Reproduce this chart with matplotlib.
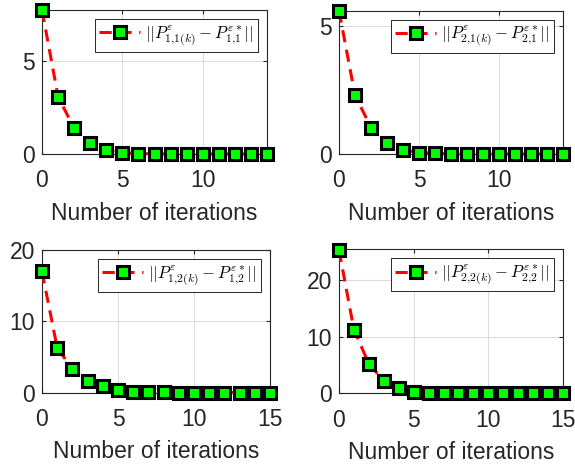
import matplotlib
matplotlib.use("Agg")
import matplotlib.pyplot as plt

# values, one list per panel
iters_top = list(range(15))
iters_bottom = list(range(16))
err_11 = [7.74, 3.08, 1.38, 0.61, 0.21, 0.07, 0.02, 0.01, 0, 0, 0, 0, 0, 0, 0]
err_21 = [5.58, 2.29, 1.03, 0.44, 0.16, 0.05, 0.02, 0.01, 0, 0, 0, 0, 0, 0, 0]
err_12 = [17.0, 6.25, 3.3, 1.65, 0.85, 0.3, 0.08, 0.03, 0.01, 0, 0, 0, 0, 0, 0, 0]
err_22 = [25.3, 11.2, 5.2, 2.2, 0.93, 0.3, 0.08, 0.03, 0.01, 0, 0, 0, 0, 0, 0, 0]

labels = [
    r"$||P^{\varepsilon}_{1{,}1(k)}-P^{\varepsilon *}_{1{,}1}||$",
    r"$||P^{\varepsilon}_{2{,}1(k)}-P^{\varepsilon *}_{2{,}1}||$",
    r"$||P^{\varepsilon}_{1{,}2(k)}-P^{\varepsilon *}_{1{,}2}||$",
    r"$||P^{\varepsilon}_{2{,}2(k)}-P^{\varepsilon *}_{2{,}2}||$",
]

plt.rcParams["font.family"] = ["Liberation Sans", "DejaVu Sans"]
plt.rcParams["mathtext.fontset"] = "cm"

AX_COL = "#262626"
W, H = 575, 468

panels = [
    # (left, top, right, bottom) in pixels, x, y, xlim, yticks, ylim, xticks
    ((42, 10, 267, 154), iters_top, err_11, (0, 14), [0, 5], (0, 7.74), [0, 5, 10]),
    ((339, 10.7, 563, 154), iters_top, err_21, (0, 14), [0, 5], (0, 5.58), [0, 5, 10]),
    ((42, 250, 270, 392.5), iters_bottom, err_12, (0, 15), [0, 10, 20], (0, 20), [0, 5, 10, 15]),
    ((339, 249.3, 563, 393.3), iters_bottom, err_22, (0, 15), [0, 10, 20], (0, 25.4), [0, 5, 10, 15]),
]

fig = plt.figure(figsize=(W / 100, H / 100), dpi=100)

for (box, x, y, xlim, yticks, ylim, xticks), lab in zip(panels, labels):
    l, t, r, b = box
    ax = fig.add_axes([l / W, (H - b) / H, (r - l) / W, (b - t) / H])
    ax.plot(x, y, color="red", linestyle=(0, (4, 2.5)), linewidth=2.2,
            marker="s", markersize=8.5, markerfacecolor="#00ff00",
            markeredgecolor="black", markeredgewidth=2.2, label=lab,
            clip_on=False, zorder=3)
    ax.set_xlim(*xlim)
    ax.set_ylim(*ylim)
    ax.set_xticks(xticks)
    ax.set_yticks(yticks)
    ax.grid(True, color="#dcdcdc", linewidth=0.8)
    ax.set_axisbelow(True)
    ax.tick_params(direction="in", top=True, right=True, length=3,
                   labelsize=16.5, colors=AX_COL)
    ax.tick_params(axis="x", pad=11)
    ax.tick_params(axis="y", pad=5)
    for s in ax.spines.values():
        s.set_color(AX_COL)
        s.set_linewidth(0.8)
    ax.set_xlabel("Number of iterations", fontsize=16.5, color=AX_COL, labelpad=7)
    leg = ax.legend(loc="upper right", fontsize=12, fancybox=False,
                    handlelength=2.5, borderpad=0.25, handletextpad=0.3,
                    borderaxespad=0.55, framealpha=1)
    leg.get_frame().set_edgecolor(AX_COL)
    leg.get_frame().set_linewidth(0.7)

fig.savefig("out.png", dpi=100)
